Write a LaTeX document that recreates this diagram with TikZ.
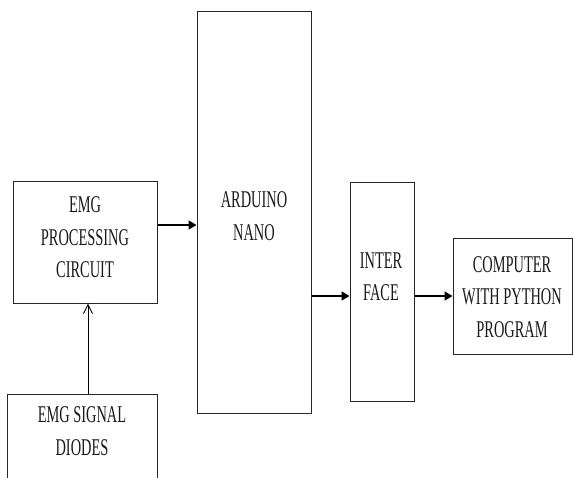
\documentclass[tikz,border=0pt]{standalone}
\usepackage{fontspec}
\setmainfont{Liberation Serif}
\newfontfamily\condfont[FakeStretch=0.6]{Liberation Serif}
\usetikzlibrary{arrows.meta}
\begin{document}
\begin{tikzpicture}[x=1pt,y=-1pt,
  box/.style={draw=black!85, line width=1pt, inner sep=0pt},
  lbl/.style={inner sep=0pt, align=center, text=black!90, font=\condfont\fontsize{24}{32.5}\selectfont},
  arr/.style={line width=1.6pt, -{Triangle[length=8pt,width=9pt]}},
  oarr/.style={line width=1pt, -{Straight Barb[length=9pt,width=9pt]}}]
\useasboundingbox (0,0) rectangle (573,477);
\clip (0,0) rectangle (573,477);
% boxes
\node[box, minimum width=144pt, minimum height=122pt] (proc) at (85,242) {};
\node[box, minimum width=150pt, minimum height=100pt] (sig) at (82,444) {};
\node[box, minimum width=114pt, minimum height=402pt] (ard) at (254,212) {};
\node[box, minimum width=64pt, minimum height=219pt] (intf) at (382,291.5) {};
\node[box, minimum width=119pt, minimum height=116pt] (comp) at (512.5,296) {};
% labels
\node[lbl] (proct) at (85,237.5) {EMG\\PROCESSING\\CIRCUIT};
\node[lbl] (sigt) at (82,431) {EMG SIGNAL\\DIODES};
\node[lbl] (ardt) at (254,216) {ARDUINO\\NANO};
\node[lbl] (intft) at (381,277) {INTER\\FACE};
\node[lbl] (compt) at (512,297) {COMPUTER\\WITH PYTHON\\PROGRAM};
% connectors
\draw[arr] (proc.east |- 0,225) -- (ard.west |- 0,225);
\draw[arr] (ard.east |- 0,296) -- (intf.west |- 0,296);
\draw[arr] (intf.east |- 0,296) -- (comp.west |- 0,296);
\draw[oarr] (sig.north -| 88,0) -- (proc.south -| 88,0);
\end{tikzpicture}
\end{document}
